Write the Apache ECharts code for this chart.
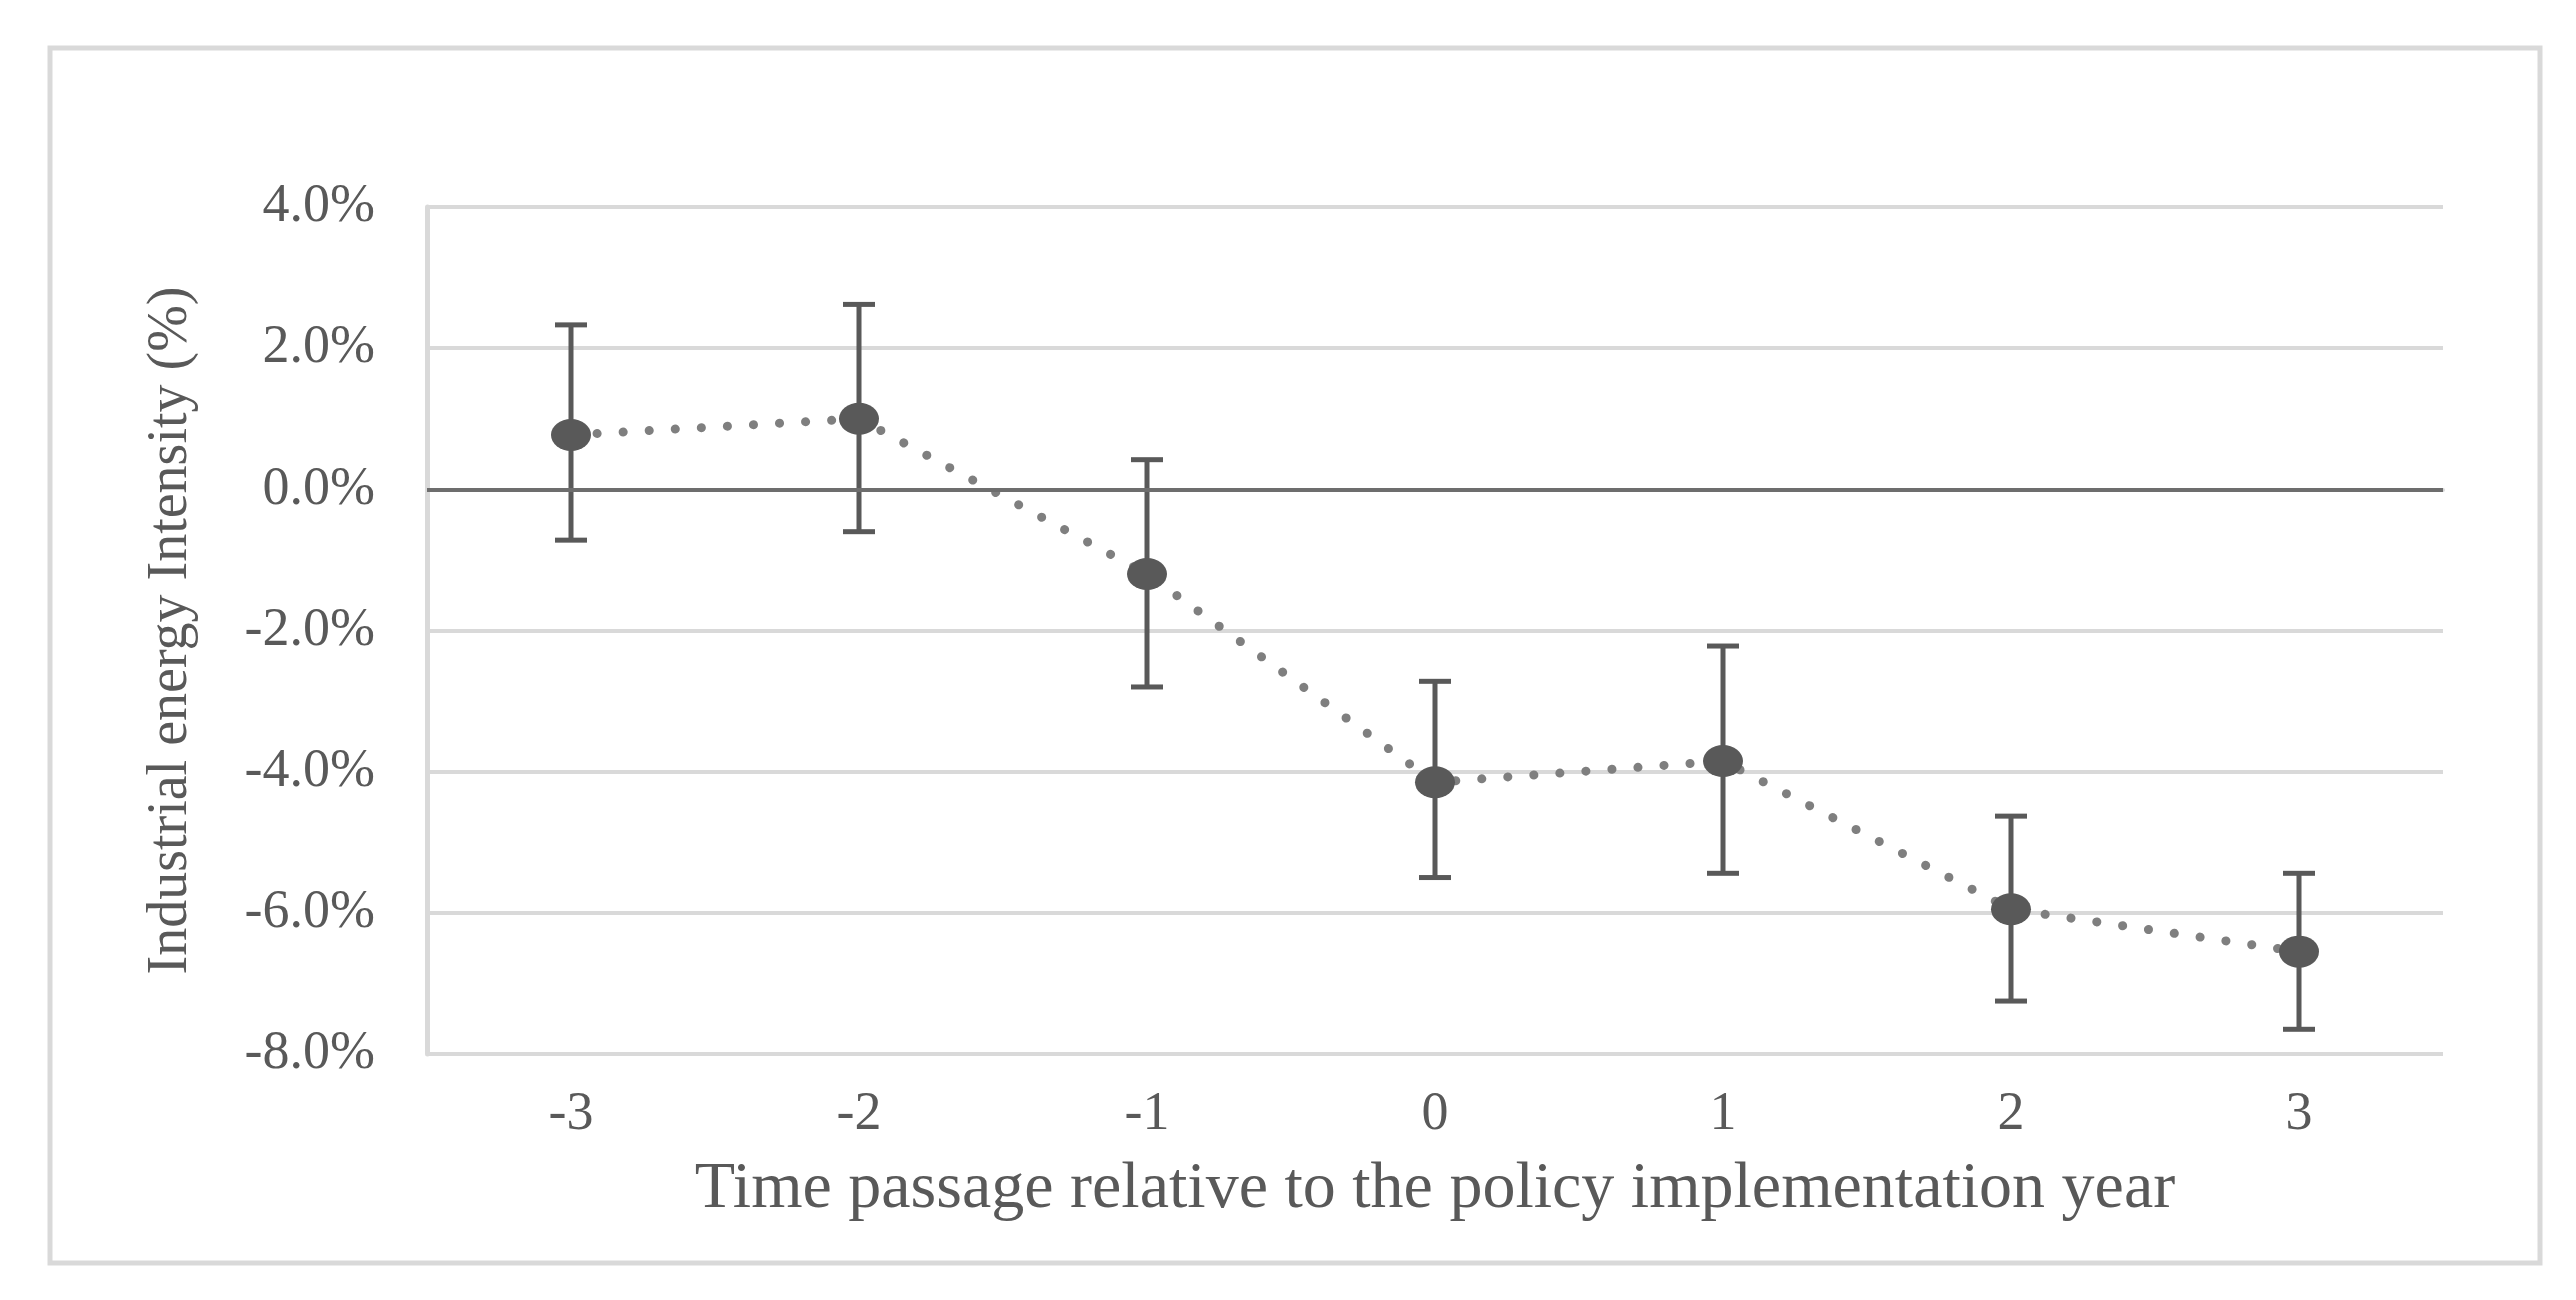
<!DOCTYPE html>
<html>
<head>
<meta charset="utf-8">
<script src="https://cdn.jsdelivr.net/npm/echarts@6/dist/echarts.min.js"></script>
<style>
html,body{margin:0;padding:0;background:#fff;}
#chart{width:2576px;height:1300px;}
</style>
</head>
<body>
<div id="chart"></div>
<script>
// Data
var categories = ['-3', '-2', '-1', '0', '1', '2', '3'];
var estimate = [0.77, 1.0, -1.2, -4.15, -3.85, -5.95, -6.55];
var upperCI = [2.33, 2.62, 0.42, -2.72, -2.22, -4.63, -5.44];
var lowerCI = [-0.72, -0.6, -2.8, -5.5, -5.44, -7.25, -7.65];
var yTicks = { min: -8, max: 4, interval: 2 };

var textColor = '#595959';
var fontFamily = '"Liberation Serif", "Times New Roman", serif';

var errorData = categories.map(function (c, i) { return [i, lowerCI[i], upperCI[i]]; });

var chart = echarts.init(document.getElementById('chart'));
chart.setOption({
  backgroundColor: '#ffffff',
  animation: false,
  graphic: [{
    type: 'rect',
    shape: { x: 50, y: 48, width: 2490, height: 1215 },
    style: { fill: 'none', stroke: '#d9d9d9', lineWidth: 5 },
    silent: true
  }],
  grid: { left: 427, right: 133, top: 207, bottom: 246 },
  xAxis: {
    type: 'category',
    data: categories,
    boundaryGap: true,
    axisLine: { show: true, lineStyle: { color: '#d9d9d9', width: 4 } },
    axisTick: { show: false },
    axisLabel: { color: textColor, fontFamily: fontFamily, fontSize: 54, margin: 34 },
    name: 'Time passage relative to the policy implementation year',
    nameLocation: 'middle',
    nameGap: 103,
    nameTextStyle: { color: textColor, fontFamily: fontFamily, fontSize: 66 },
    splitLine: { show: false }
  },
  yAxis: {
    type: 'value',
    min: yTicks.min,
    max: yTicks.max,
    interval: yTicks.interval,
    axisLine: { show: true, lineStyle: { color: '#d9d9d9', width: 5 } },
    axisTick: { show: false },
    axisLabel: {
      color: textColor, fontFamily: fontFamily, fontSize: 54, margin: 52,
      formatter: function (v) { return v.toFixed(1) + '%'; }
    },
    splitLine: { show: true, lineStyle: { color: '#d9d9d9', width: 4 } },
    name: 'Industrial energy Intensity (%)',
    nameLocation: 'middle',
    nameGap: 228,
    nameTextStyle: { color: textColor, fontFamily: fontFamily, fontSize: 56 }
  },
  series: [
    {
      type: 'custom',
      name: 'CI',
      z: 3,
      renderItem: function (params, api) {
        var x = api.value(0);
        var lo = api.coord([x, api.value(1)]);
        var hi = api.coord([x, api.value(2)]);
        var half = 16;
        var st = { stroke: '#595959', lineWidth: 5 };
        return {
          type: 'group',
          children: [
            { type: 'line', shape: { x1: hi[0], y1: hi[1], x2: lo[0], y2: lo[1] }, style: st },
            { type: 'line', shape: { x1: hi[0] - half, y1: hi[1], x2: hi[0] + half, y2: hi[1] }, style: st },
            { type: 'line', shape: { x1: lo[0] - half, y1: lo[1], x2: lo[0] + half, y2: lo[1] }, style: st }
          ]
        };
      },
      encode: { x: 0, y: [1, 2] },
      data: errorData,
      markLine: {
        silent: true,
        symbol: ['none', 'none'],
        label: { show: false },
        lineStyle: { color: '#6d6d6d', width: 4, type: 'solid' },
        data: [{ yAxis: 0 }]
      }
    },
    {
      type: 'line',
      name: 'Estimate',
      z: 4,
      data: estimate,
      symbol: 'circle',
      symbolSize: [40, 32],
      itemStyle: { color: '#595959' },
      lineStyle: { color: '#7f7f7f', width: 9, type: [0.1, 26], cap: 'round' }
    }
  ]
});
</script>
</body>
</html>
